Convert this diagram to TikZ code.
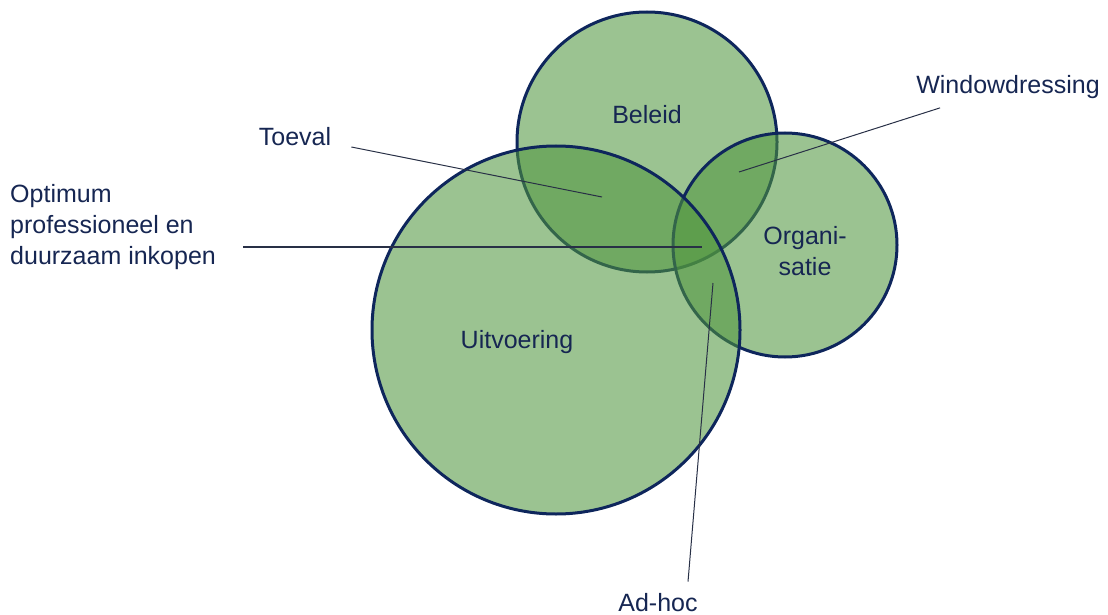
\documentclass[tikz,border=0pt]{standalone}
\usepackage{fontspec}
\setmainfont{Liberation Sans}
\definecolor{setgreen}{RGB}{80,150,62}
\definecolor{setnavy}{RGB}{14,38,92}
\definecolor{txtnavy}{RGB}{22,38,82}
\definecolor{leadgray}{RGB}{40,48,70}

\begin{document}
\begin{tikzpicture}[x=1pt, y=-1pt,
  setcircle/.style={circle, draw=setnavy, line width=3pt, fill=setgreen, fill opacity=0.57, inner sep=0pt},
  lbl/.style={text=txtnavy, font=\fontsize{25}{31}\selectfont, inner sep=0pt},
  leaderline/.style={draw=leadgray, line width=1pt}]
  \useasboundingbox (0,0) rectangle (1108,615);
  \node[setcircle, minimum size=260pt] (beleid) at (647,142) {};
  \node[setcircle, minimum size=224pt] (organisatie) at (785,245) {};
  \node[setcircle, minimum size=368pt] (uitvoering) at (556,330) {};
  \node[lbl] (beleidtxt) at (647,115) {Beleid};
  \node[lbl, align=center] (orgtxt) at (805,251) {Organi-\\satie};
  \node[lbl] (uittxt) at (517,342) {Uitvoering};
  \node[lbl] (toeval) at (295,137) {Toeval};
  \node[lbl] (wd) at (1008,87) {Windowdressing};
  \node[lbl] (adhoc) at (658,603) {Ad-hoc};
  \node[lbl, align=left, anchor=west] (opt) at (10,227) {Optimum\\professioneel en\\duurzaam inkopen};
  \coordinate (toevalpt) at (602,197);
  \coordinate (optpt) at (702,247);
  \coordinate (wdpt) at (739,172);
  \coordinate (adhocpt) at (713,283);
  \draw[leaderline] ([shift={(20,10)}]toeval.east) -- (toevalpt);
  \draw[leaderline, line width=1.4pt] ([shift={(27,20)}]opt.east) -- (optpt);
  \draw[leaderline] ([shift={(24,9)}]wd.south west) -- (wdpt);
  \draw[leaderline] ([shift={(30,-12)}]adhoc.north) -- (adhocpt);
\end{tikzpicture}
\end{document}
